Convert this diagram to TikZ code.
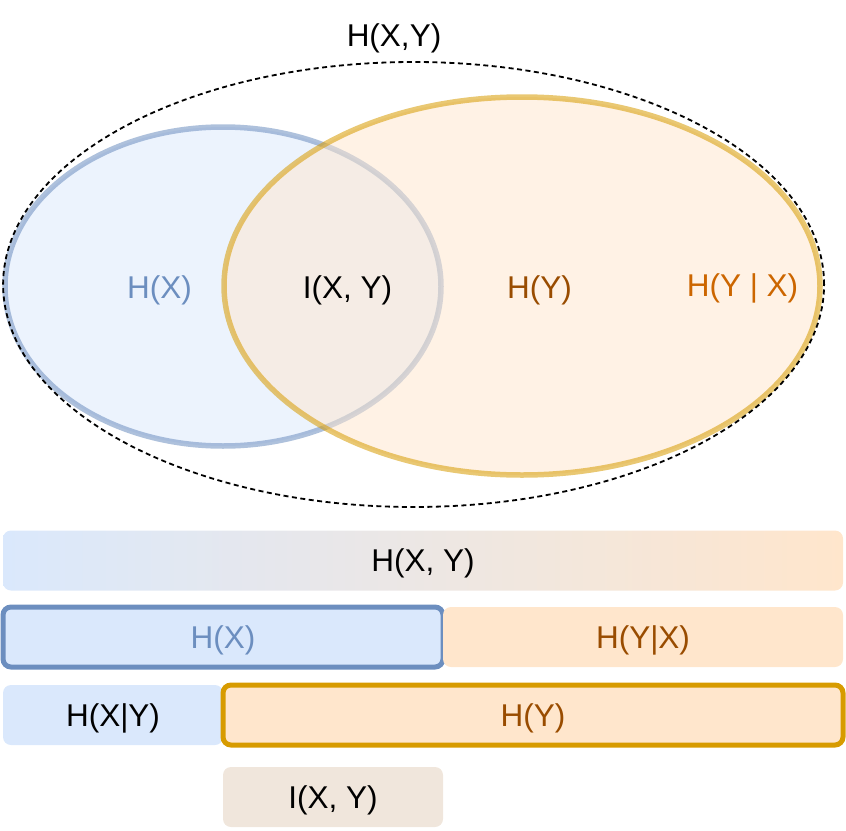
\documentclass[tikz,border=0pt]{standalone}
\usepackage{fontspec}
\setmainfont{Liberation Sans}
\usetikzlibrary{positioning,shapes.geometric}
\definecolor{xfill}{HTML}{DAE8FC}
\definecolor{xline}{HTML}{6C8EBF}
\definecolor{yfill}{HTML}{FFE6CC}
\definecolor{yline}{HTML}{D79B00}
\definecolor{ytext}{HTML}{994C00}
\definecolor{ycond}{HTML}{CC6600}
\definecolor{ixyfill}{HTML}{F0E6DC}
\tikzset{bar/.style={rectangle,rounded corners=8pt,minimum height=60pt,inner sep=0pt,outer sep=0pt,text height=22.6pt,text depth=0pt},
	 vset/.style={ellipse,line width=5.5pt,inner sep=0pt,outer sep=0pt,fill opacity=0.5,draw opacity=0.55},
	 vlabel/.style={anchor=base},
	 node distance = 17pt
	 }

\begin{document}
\begin{tikzpicture}[x=1pt,y=-1pt,font=\fontsize{31.5}{38}\selectfont] % entropy Venn diagram and bars
	\useasboundingbox (0,0) rectangle (846,830);
	\node[vset,draw=xline,fill=xfill,minimum width=436pt,minimum height=319pt] (setx) at (223,286.5) {};
	\node[vset,draw=yline,fill=yfill,minimum width=596pt,minimum height=378pt] (sety) at (522,286) {};
	\node[ellipse,draw,line width=1.8pt,dash pattern=on 5pt off 3.5pt,inner sep=0pt,minimum width=821pt,minimum height=445pt] (joint) at (413.6,284.5) {};
	\node[vlabel] (jointlabel) at (394,46.7) {H(X,Y)};
	\node[vlabel,text=xline] (hxlabel) at (159.5,298) {H(X)};
	\node[vlabel] (ixylabel) at (347.5,298) {I(X, Y)};
	\node[vlabel,text=ytext] (hylabel) at (539.5,298) {H(Y)};
	\node[vlabel,text=ycond] (hyxlabel) at (742.5,296) {H(Y | X)};
	\node[bar,left color=xfill,right color=yfill,minimum width=840pt,anchor=north west] (hxy) at (3,530.5) {H(X, Y)};
	\node[bar,fill=xfill,draw=xline,line width=5pt,text=xline,minimum width=440pt] (hx) [below right=16.5pt and 0pt of hxy.south west] {H(X)};
	\node[bar,fill=yfill,text=ytext,minimum width=400pt] (hyx) [right=0pt of hx] {H(Y|X)};
	\node[bar,fill=xfill,minimum width=220pt] (hxgy) [below right=18pt and 0pt of hx.south west] {H(X|Y)};
	\node[bar,fill=yfill,draw=yline,line width=5pt,text=ytext,minimum width=620pt] (hy) [right=0pt of hxgy] {H(Y)};
	\node[bar,fill=ixyfill,minimum width=220pt] (ixy) [below right=22pt and 0pt of hy.south west] {I(X, Y)};
\end{tikzpicture}
\end{document}
